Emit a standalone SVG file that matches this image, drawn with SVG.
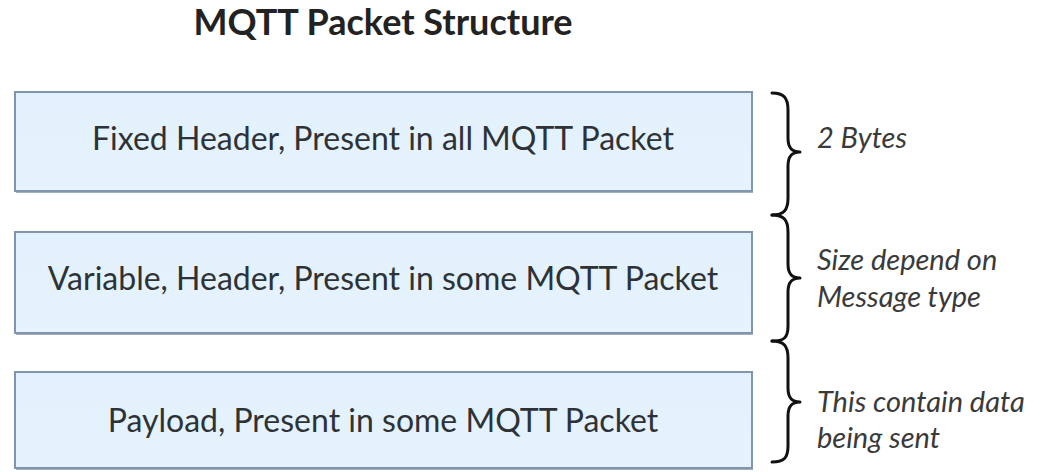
<svg xmlns="http://www.w3.org/2000/svg" width="1046" height="472" viewBox="0 0 1046 472">
  <defs>
    <linearGradient id="boxFill" x1="0" y1="0" x2="0" y2="1">
      <stop offset="0" stop-color="#e2f1fd"/>
      <stop offset="1" stop-color="#e6f3fd"/>
    </linearGradient>
  </defs>
  <style>
    .shadow { fill: #a3adbb; }
    .box { fill: url(#boxFill); stroke: #8395ae; stroke-width: 2; }
    .label { font-family: Lato, "Open Sans", sans-serif; font-size: 32px; fill: #2e3236; text-anchor: middle; }
    .title { font-family: Lato, "Open Sans", sans-serif; font-size: 36px; font-weight: bold; fill: #222; text-anchor: middle; }
    .note { font-family: Lato, "Open Sans", sans-serif; font-size: 29px; font-style: italic; fill: #3a3a3a; }
    .brace { fill: none; stroke: #111; stroke-width: 3; stroke-linecap: round; stroke-linejoin: round; }
  </style>
  <rect width="1046" height="472" fill="#ffffff"/>

  <text class="title" x="383" y="35">MQTT Packet Structure</text>

  <g id="fixed-header">
    <rect class="shadow" x="16" y="93" width="737" height="100"/>
    <rect class="box" x="15" y="92" width="737" height="99"/>
    <text class="label" x="383" y="150">Fixed Header, Present in all MQTT Packet</text>
  </g>

  <g id="variable-header">
    <rect class="shadow" x="16" y="233" width="737" height="102"/>
    <rect class="box" x="15" y="232" width="737" height="101"/>
    <text class="label" x="383" y="290">Variable, Header, Present in some MQTT Packet</text>
  </g>

  <g id="payload">
    <rect class="shadow" x="16" y="373" width="737" height="97"/>
    <rect class="box" x="15" y="372" width="737" height="96"/>
    <text class="label" x="383" y="432">Payload, Present in some MQTT Packet</text>
  </g>

  <!-- curly braces marking the extent of each section -->
  <g id="connectors">
    <path class="brace" d="M772 93 C784 93 788 98 788 110 L788 138 C788 148 792 152 800 152 C792 152 788 156 788 166 L788 198 C788 210 784 215 772 215"/>
    <path class="brace" d="M772 215 C784 215 788 220 788 232 L788 264 C788 274 792 278 800 278 C792 278 788 282 788 292 L788 326 C788 338 784 341 772 341"/>
    <path class="brace" d="M772 341 C784 341 788 346 788 358 L788 388 C788 398 792 402 800 402 C792 402 788 406 788 416 L788 446 C788 458 784 462 772 462"/>
  </g>

  <g id="notes">
    <text class="note" x="817" y="148">2 Bytes</text>
    <text class="note" x="817" y="270">Size depend on</text>
    <text class="note" x="817" y="307">Message type</text>
    <text class="note" x="817" y="412">This contain data</text>
    <text class="note" x="817" y="448">being sent</text>
  </g>
</svg>
